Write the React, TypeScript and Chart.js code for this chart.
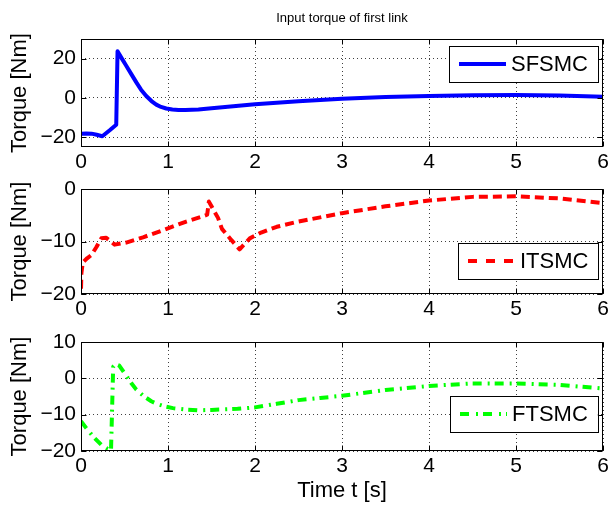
import React, { useEffect, useRef } from "react";
import { Chart, registerables } from "chart.js";

Chart.register(...registerables);

const FONT = "'Liberation Sans', Arial, Helvetica, sans-serif";

// ---------- data ----------
const titleText = "Input torque of first link";
const yLabel = "Torque [Nm]";
const xLabel = "Time t [s]";
const xTicks = [0, 1, 2, 3, 4, 5, 6];

const y1Ticks = [-20, 0, 20];
const y2Ticks = [-20, -10, 0];
const y3Ticks = [-20, -10, 0, 10];

const sfsmcT = [0, 0.06, 0.12, 0.18, 0.245, 0.33, 0.405, 0.42, 0.47, 0.52, 0.58, 0.636, 0.69, 0.75, 0.81, 0.865, 0.92, 0.98, 1.05, 1.12, 1.2, 1.35, 1.5, 1.75, 2.0, 2.5, 3.0, 3.5, 4.0, 4.5, 5.0, 5.5, 6.0];
const sfsmcV = [-18.3, -18.1, -18.2, -18.8, -19.5, -16.5, -13.7, 23.7, 20.0, 16.4, 12.0, 7.9, 4.2, 1.0, -1.6, -3.4, -4.6, -5.4, -5.9, -6.1, -6.2, -5.9, -5.3, -4.3, -3.2, -1.7, -0.4, 0.4, 1.0, 1.4, 1.5, 1.2, 0.6];

const itsmcT = [0, 0.005, 0.02, 0.07, 0.118, 0.176, 0.233, 0.29, 0.387, 0.52, 0.713, 0.866, 1.0, 1.21, 1.383, 1.45, 1.47, 1.5, 1.575, 1.62, 1.727, 1.823, 1.94, 2.07, 2.25, 2.5, 2.75, 3.0, 3.5, 4.0, 4.5, 5.0, 5.5, 6.0];
const itsmcV = [-19.0, -16.0, -14.0, -13.2, -12.6, -11.1, -9.4, -9.3, -10.6, -10.2, -9.2, -8.3, -7.5, -6.2, -5.3, -4.9, -2.4, -3.3, -5.5, -7.6, -9.7, -11.5, -9.4, -8.3, -7.2, -6.2, -5.4, -4.6, -3.3, -2.2, -1.5, -1.4, -1.8, -2.7];

const ftsmcT = [0, 0.061, 0.138, 0.233, 0.3, 0.345, 0.37, 0.4, 0.44, 0.513, 0.575, 0.636, 0.72, 0.808, 0.88, 0.96, 1.057, 1.2, 1.35, 1.5, 1.8, 2.0, 2.25, 2.5, 2.75, 3.0, 3.5, 4.0, 4.5, 5.0, 5.5, 6.0];
const ftsmcV = [-11.8, -13.7, -16.0, -18.3, -19.3, -19.8, 3.2, 3.9, 3.5, 1.0, -1.2, -3.1, -4.9, -6.3, -7.1, -7.7, -8.2, -8.6, -8.8, -8.7, -8.4, -8.0, -7.0, -6.0, -5.4, -4.8, -3.2, -2.1, -1.4, -1.4, -1.8, -2.8];

const fmt = (v: number) => (v < 0 ? "\u2212" + Math.abs(v) : String(v));

// ---------- drawing plugin ----------
const panelPlugin = {
  id: "panelDeco",
  afterDraw(chart: any, _args: any, opts: any) {
    const { ctx, chartArea: a, scales } = chart;
    ctx.save();
    ctx.setLineDash([]);
    ctx.strokeStyle = "#000";
    ctx.lineWidth = 1;
    const L = 5;
    const seg = (x1: number, y1: number, x2: number, y2: number) => {
      ctx.beginPath();
      ctx.moveTo(x1, y1);
      ctx.lineTo(x2, y2);
      ctx.stroke();
    };
    const left = Math.round(a.left) + 0.5;
    const right = Math.round(a.right) - 0.5;
    const top = Math.round(a.top) + 0.5;
    const bottom = Math.round(a.bottom) - 0.5;
    scales.x.ticks.forEach((t: any) => {
      const px = Math.round(scales.x.getPixelForValue(t.value)) + 0.5;
      seg(px, top, px, top + L);
      seg(px, bottom, px, bottom - L);
    });
    scales.y.ticks.forEach((t: any) => {
      const py = Math.round(scales.y.getPixelForValue(t.value)) + 0.5;
      seg(left, py, left + L, py);
      seg(right, py, right - L, py);
    });
    ctx.strokeRect(left, top, right - left, bottom - top);

    if (opts.title) {
      ctx.fillStyle = "#000";
      ctx.font = `13px ${FONT}`;
      ctx.textAlign = "center";
      ctx.textBaseline = "middle";
      ctx.fillText(opts.title, (a.left + a.right) / 2, a.top - 21);
    }

    const lg = opts.legend;
    if (lg) {
      ctx.font = `22px ${FONT}`;
      const tw = ctx.measureText(lg.text).width;
      const w = 10 + 47 + 5 + tw + 10;
      const h = 36;
      const bx = Math.round(a.right - 5 - w);
      const by = Math.round(lg.anchor === "top" ? a.top + lg.offset : a.bottom - lg.offset - h);
      ctx.fillStyle = "#fff";
      ctx.fillRect(bx, by, w, h);
      ctx.strokeStyle = "#000";
      ctx.lineWidth = 1;
      ctx.strokeRect(bx + 0.5, by + 0.5, Math.round(w), h);
      ctx.strokeStyle = lg.color;
      ctx.lineWidth = 4;
      ctx.setLineDash(lg.dash);
      ctx.lineCap = "butt";
      seg(bx + 10, by + h / 2, bx + 57, by + h / 2);
      ctx.setLineDash([]);
      ctx.fillStyle = "#000";
      ctx.textAlign = "left";
      ctx.textBaseline = "middle";
      ctx.fillText(lg.text, bx + 62, by + h / 2 + 1);
    }
    ctx.restore();
  },
};

type PanelProps = {
  top: number;
  height: number;
  padTop: number;
  xAxisH: number;
  yMin: number;
  yMax: number;
  yTicks: number[];
  t: number[];
  v: number[];
  label: string;
  color: string;
  dash: number[];
  legendDash: number[];
  legendAnchor: "top" | "bottom";
  legendOffset: number;
  showTitle?: boolean;
  showXLabel?: boolean;
};

function Panel(p: PanelProps) {
  const ref = useRef<HTMLCanvasElement | null>(null);
  useEffect(() => {
    if (!ref.current) return;
    const data = p.t.map((x, i) => ({ x, y: p.v[i] }));
    const chart = new Chart(ref.current, {
      type: "line",
      data: {
        datasets: [
          {
            label: p.label,
            data,
            borderColor: p.color,
            backgroundColor: p.color,
            borderWidth: 4,
            borderDash: p.dash,
            borderCapStyle: "butt",
            borderJoinStyle: "round",
            pointRadius: 0,
            tension: 0,
            fill: false,
          },
        ],
      },
      options: {
        animation: false,
        responsive: false,
        devicePixelRatio: 1,
        layout: { padding: { top: p.padTop, right: 5, left: 0, bottom: 0 }, autoPadding: false },
        plugins: {
          legend: { display: false },
          title: { display: false },
          tooltip: { enabled: false },
          panelDeco: {
            title: p.showTitle ? titleText : null,
            legend: {
              text: p.label,
              color: p.color,
              dash: p.legendDash,
              anchor: p.legendAnchor,
              offset: p.legendOffset,
            },
          },
        } as any,
        scales: {
          x: {
            type: "linear",
            min: 0,
            max: 6,
            afterBuildTicks: (s: any) => {
              s.ticks = xTicks.map((value) => ({ value }));
            },
            afterFit: (s: any) => {
              s.height = p.xAxisH;
              s.paddingLeft = 0;
              s.paddingRight = 0;
            },
            ticks: {
              autoSkip: false,
              maxRotation: 0,
              padding: 3,
              color: "#000",
              font: { family: FONT, size: 21 },
              callback: (v: any) => fmt(Number(v)),
            },
            grid: { color: "rgba(0,0,0,0.75)", lineWidth: 1, drawTicks: false },
            border: { display: false, dash: [1, 3] },
            title: {
              display: !!p.showXLabel,
              text: xLabel,
              color: "#000",
              font: { family: FONT, size: 22 },
              padding: { top: 0, bottom: 2 },
            },
          },
          y: {
            type: "linear",
            min: p.yMin,
            max: p.yMax,
            afterBuildTicks: (s: any) => {
              s.ticks = p.yTicks.map((value) => ({ value }));
            },
            afterFit: (s: any) => {
              s.width = 81;
              s.paddingTop = 0;
              s.paddingBottom = 0;
            },
            ticks: {
              autoSkip: false,
              padding: 5,
              color: "#000",
              font: { family: FONT, size: 21 },
              callback: (v: any) => fmt(Number(v)),
            },
            grid: { color: "rgba(0,0,0,0.75)", lineWidth: 1, drawTicks: false },
            border: { display: false, dash: [1, 3] },
            title: {
              display: true,
              text: yLabel,
              color: "#000",
              font: { family: FONT, size: 22 },
              padding: { top: 7, bottom: 0 },
            },
          },
        },
      },
      plugins: [panelPlugin],
    } as any);
    return () => chart.destroy();
  }, []);
  return (
    <div style={{ position: "absolute", left: 0, top: p.top, width: 608, height: p.height }}>
      <canvas ref={ref} width={608} height={p.height} style={{ display: "block" }} />
    </div>
  );
}

export default function App() {
  return (
    <div
      style={{
        position: "absolute",
        left: 0,
        top: 0,
        width: 608,
        height: 506,
        background: "#fff",
        overflow: "hidden",
      }}
    >
      <Panel
        top={0}
        height={175}
        padTop={39}
        xAxisH={28}
        yMin={-25}
        yMax={30}
        yTicks={y1Ticks}
        t={sfsmcT}
        v={sfsmcV}
        label="SFSMC"
        color="#0000ff"
        dash={[]}
        legendDash={[]}
        legendAnchor="top"
        legendOffset={7}
        showTitle
      />
      <Panel
        top={175}
        height={146}
        padTop={14}
        xAxisH={27}
        yMin={-20}
        yMax={0}
        yTicks={y2Ticks}
        t={itsmcT}
        v={itsmcV}
        label="ITSMC"
        color="#ff0000"
        dash={[9, 5]}
        legendDash={[9, 9]}
        legendAnchor="bottom"
        legendOffset={15}
      />
      <Panel
        top={321}
        height={185}
        padTop={21}
        xAxisH={55}
        yMin={-20}
        yMax={10}
        yTicks={y3Ticks}
        t={ftsmcT}
        v={ftsmcV}
        label="FTSMC"
        color="#00ff00"
        dash={[9, 6, 2, 5]}
        legendDash={[9, 7, 2, 5]}
        legendAnchor="bottom"
        legendOffset={19}
        showXLabel
      />
    </div>
  );
}
